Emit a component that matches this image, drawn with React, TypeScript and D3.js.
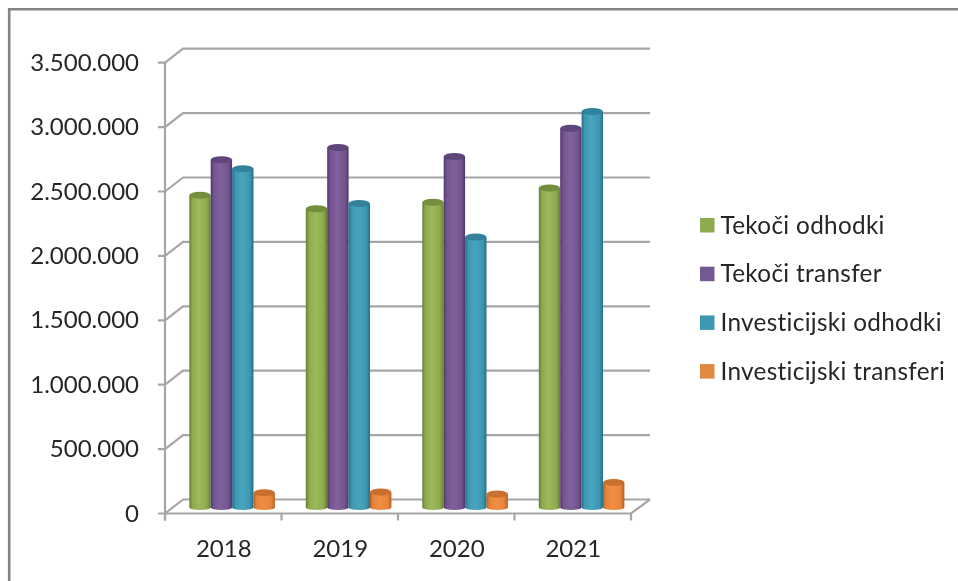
import React from "react";
import * as d3 from "d3";

const categories = ["2018", "2019", "2020", "2021"];
const seriesNames = ["Tekoči odhodki", "Tekoči transfer", "Investicijski odhodki", "Investicijski transferi"];
const tekociOdhodki = [2425000, 2320000, 2370000, 2480000];
const tekociTransfer = [2700000, 2795000, 2725000, 2945000];
const investicijskiOdhodki = [2630000, 2360000, 2100000, 3075000];
const investicijskiTransferi = [115000, 120000, 105000, 195000];
const yTicks = [0, 500000, 1000000, 1500000, 2000000, 2500000, 3000000, 3500000];
const tickLabels = ["0", "500.000", "1.000.000", "1.500.000", "2.000.000", "2.500.000", "3.000.000", "3.500.000"];
const colors = [
  { base: "#8eaa4e", dark: "#64802f", top: "#738e3e", light: "#9cba5c", legend: "#8fab50" },
  { base: "#74558f", dark: "#4f376b", top: "#5e447b", light: "#80619c", legend: "#745a92" },
  { base: "#3e97b0", dark: "#23708a", top: "#30829b", light: "#47a5bf", legend: "#3f98b1" },
  { base: "#e8843a", dark: "#b8611f", top: "#c9702e", light: "#ef8f44", legend: "#e08a41" },
];

const FONT = "Lato, 'Open Sans', sans-serif";
const series = [tekociOdhodki, tekociTransfer, investicijskiOdhodki, investicijskiTransferi];

export default function App() {
  const axisX0 = 165, axisX1 = 631, dx = 18, dy = -14;
  const yFront = d3.scaleLinear().domain([0, 3500000]).range([513.5, 62.7]);
  const yBar = d3.scaleLinear().domain([0, 3500000]).range([507.5, 56.7]);
  const x = d3.scaleBand().domain(categories).range([axisX0, axisX1]);
  const barW = 21.4;
  const groupOffset = 24.3;
  const gridC = "#a6a6a6";
  return (
    <svg width={958} height={581} style={{ position: "absolute", left: 0, top: 0, background: "#fff" }}>
      <defs>
        {colors.map((c, i) => (
          <linearGradient key={i} id={`g${i}`} x1="0" x2="1" y1="0" y2="0">
            <stop offset="0" stopColor={c.dark} />
            <stop offset="0.15" stopColor={c.base} />
            <stop offset="0.45" stopColor={c.light} />
            <stop offset="0.82" stopColor={c.base} />
            <stop offset="1" stopColor={c.dark} />
          </linearGradient>
        ))}
        <filter id="soft" x="-5%" y="-5%" width="110%" height="110%">
          <feGaussianBlur stdDeviation="0.5" />
        </filter>
        <filter id="softText" x="-5%" y="-5%" width="110%" height="110%">
          <feGaussianBlur stdDeviation="0.3" />
        </filter>
      </defs>
      <path d="M958,9.2 L9.2,9.2 L9.2,581" fill="none" stroke="#848484" strokeWidth={2.6} />
      <g filter="url(#soft)">
        {yTicks.map((t) => {
          const y = yFront(t);
          return (
            <path
              key={t}
              d={`M${axisX0 - 7},${y} L${axisX0},${y} L${axisX0 + dx},${y + dy} L${axisX1 + dx + 1},${y + dy}`}
              fill="none"
              stroke={gridC}
              strokeWidth={2.2}
            />
          );
        })}
        <line x1={axisX0} x2={axisX0} y1={yFront(3500000)} y2={yFront(0) + 7} stroke={gridC} strokeWidth={2.2} />
        <path
          d={`M${axisX0},${yFront(0)} L${axisX1},${yFront(0)} L${axisX1 + dx + 1},${yFront(0) + dy}`}
          fill="none"
          stroke={gridC}
          strokeWidth={2.2}
        />
        {[...categories.map((c) => x(c) as number), axisX1].map((px) => (
          <line key={px} x1={px} x2={px} y1={yFront(0)} y2={yFront(0) + 7} stroke={gridC} strokeWidth={2.2} />
        ))}
        {categories.map((c, ci) =>
          series.map((vals, si) => {
            const left = (x(c) as number) + groupOffset + si * barW;
            const top = yBar(vals[ci]);
            const bottom = yBar(0);
            const rx = barW / 2;
            return (
              <g key={`${c}-${si}`}>
                <path
                  d={`M${left},${top} L${left},${bottom} A${rx},2.5 0 0 0 ${left + barW},${bottom} L${left + barW},${top} Z`}
                  fill={`url(#g${si})`}
                />
                <ellipse cx={left + rx} cy={top} rx={rx} ry={3.5} fill={colors[si].top} />
              </g>
            );
          })
        )}
      </g>
      <g fontFamily={FONT} fill="#262626" fontSize={24} filter="url(#softText)" style={{ fontVariantLigatures: "none" }}>
        {yTicks.map((t, i) => (
          <text key={t} x={139} y={yFront(t) + 8} textAnchor="end">{tickLabels[i]}</text>
        ))}
        {categories.map((c) => (
          <text key={c} x={(x(c) as number) + x.bandwidth() / 2 + 0.5} y={556.5} textAnchor="middle">{c}</text>
        ))}
      </g>
      {seriesNames.map((n, i) => {
        const y = 218 + i * 48.7;
        return (
          <g key={n}>
            <rect x={700} y={y} width={14.5} height={14.5} fill={colors[i].legend} />
            <text x={720.5} y={y + 15.5} fontFamily={FONT} fontSize={24.3} letterSpacing={0.32} fill="#262626" filter="url(#softText)" style={{ fontVariantLigatures: "none" }}>{n}</text>
          </g>
        );
      })}
    </svg>
  );
}
